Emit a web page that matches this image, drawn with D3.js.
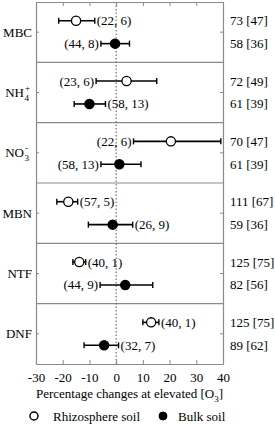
<!DOCTYPE html>
<html>
<head>
<meta charset="utf-8">
<script src="https://cdn.jsdelivr.net/npm/d3@7"></script>
<style>
  body { margin: 0; background: #fff; }
  #chart text { font-family: 'Liberation Serif'; }
</style>
</head>
<body>
<div id="chart"></div>
<script>
// Data
const categories = ["MBC", "NH4", "NO3", "MBN", "NTF", "DNF"];

const rhizoMean = [-15, 3.9, 20.5, -17.9, -13.8, 13.1];
const rhizoLow  = [-21.5, -7.5, 6.5, -22.2, -16.2, 10];
const rhizoHigh = [-8, 15.2, 39.2, -14.4, -11.4, 16];
const rhizoNote = ["(22, 6)", "(23, 6)", "(22, 6)", "(57, 5)", "(40, 1)", "(40, 1)"];
const rhizoSide = ["right", "left", "left", "right", "right", "right"];
const rhizoN    = ["73 [47]", "72 [49]", "70 [47]", "111 [67]", "125 [75]", "125 [75]"];

const bulkMean = [-0.4, -10, 1.2, -1.3, 3.4, -4.5];
const bulkLow  = [-5.7, -15.7, -5.7, -10.4, -6, -12];
const bulkHigh = [5, -4, 9.3, 6.2, 13.7, 0.9];
const bulkNote = ["(44, 8)", "(58, 13)", "(58, 13)", "(26, 9)", "(44, 9)", "(32, 7)"];
const bulkSide = ["left", "right", "left", "right", "left", "right"];
const bulkN    = ["58 [36]", "61 [39]", "61 [39]", "59 [36]", "82 [56]", "89 [62]"];

const xTicks = [-30, -20, -10, 0, 10, 20, 30, 40];

const FONT = "Liberation Serif";

// Layout
const W = 275, H = 425;
const margin = { top: 2, right: 52, bottom: 61, left: 36 };
const width = W - margin.left - margin.right;
const height = H - margin.top - margin.bottom;

const svg = d3.select("#chart")
    .append("svg")
    .attr("width", W)
    .attr("height", H)
    .attr("font-family", FONT)
    .attr("font-size", 13);

const g = svg.append("g")
    .attr("transform", `translate(${margin.left},${margin.top})`);

const x = d3.scaleLinear().domain([-30, 40]).range([0, width]);
const y = d3.scaleBand().domain(categories).range([0, height]);
const bw = y.bandwidth();

// rows: two series per category
const rows = [];
categories.forEach((c, i) => {
    rows.push({ cat: c, type: "rhizo", off: 0.31, mean: rhizoMean[i], lo: rhizoLow[i], hi: rhizoHigh[i], note: rhizoNote[i], side: rhizoSide[i], n: rhizoN[i] });
    rows.push({ cat: c, type: "bulk", off: 0.69, mean: bulkMean[i], lo: bulkLow[i], hi: bulkHigh[i], note: bulkNote[i], side: bulkSide[i], n: bulkN[i] });
});
const ry = d => y(d.cat) + bw * d.off;

// Panel separators
g.selectAll(".sep")
    .data(categories.slice(1))
    .join("line")
    .attr("x1", 0).attr("x2", width)
    .attr("y1", d => y(d)).attr("y2", d => y(d))
    .attr("stroke", "#8a8a8a").attr("stroke-width", 1.2);

// zero line
g.append("line")
    .attr("x1", x(0)).attr("x2", x(0))
    .attr("y1", 0).attr("y2", height)
    .attr("stroke", "#555").attr("stroke-width", 1)
    .attr("stroke-dasharray", "1.5,2");

// Axes (ticks inside)
const bottomAxis = d3.axisBottom(x).tickValues(xTicks).tickFormat(d => String(d))
    .tickSizeInner(-4).tickSizeOuter(0).tickPadding(9);
const topAxis = d3.axisTop(x).tickValues(xTicks).tickSizeInner(-4).tickSizeOuter(0).tickFormat("");
const leftAxis = d3.axisLeft(y).tickSizeInner(-3).tickSizeOuter(0).tickFormat("");
const rightAxis = d3.axisRight(y).tickSizeInner(-3).tickSizeOuter(0).tickFormat("");

[
    [bottomAxis, `translate(0,${height})`],
    [topAxis, "translate(0,0)"],
    [leftAxis, "translate(0,0)"],
    [rightAxis, `translate(${width},0)`]
].forEach(([ax, tr]) => {
    const a = g.append("g").attr("transform", tr).call(ax)
        .attr("font-family", FONT).attr("font-size", 13);
    a.select(".domain").attr("stroke", "#8a8a8a").attr("stroke-width", 1.2);
    a.selectAll(".tick line").attr("stroke", "#8a8a8a");
    a.selectAll(".tick text").attr("fill", "#000");
});

// Category labels with sub/superscripts
const labelText = {
    MBC: ["MBC", null, null],
    NH4: ["NH", "4", "+"],
    NO3: ["NO", "3", "-"],
    MBN: ["MBN", null, null],
    NTF: ["NTF", null, null],
    DNF: ["DNF", null, null]
};
categories.forEach(c => {
    const [base, sub, sup] = labelText[c];
    const cy = y(c) + bw / 2 + 4.5;
    if (!sub) {
        g.append("text").attr("x", -4).attr("y", cy).attr("text-anchor", "end").text(base);
    } else {
        g.append("text").attr("x", -12).attr("y", cy).attr("text-anchor", "end").text(base);
        g.append("text").attr("x", -11.5).attr("y", cy + 4).attr("font-size", 9).text(sub);
        g.append("text").attr("x", -11).attr("y", cy - 6).attr("font-size", 9).text(sup);
    }
});

// Error bars
g.selectAll(".err")
    .data(rows)
    .join("line")
    .attr("x1", d => x(d.lo)).attr("x2", d => x(d.hi))
    .attr("y1", ry).attr("y2", ry)
    .attr("stroke", "#000").attr("stroke-width", 1.6);

g.selectAll(".capL")
    .data(rows)
    .join("line")
    .attr("x1", d => x(d.lo)).attr("x2", d => x(d.lo))
    .attr("y1", d => ry(d) - 3).attr("y2", d => ry(d) + 3)
    .attr("stroke", "#000").attr("stroke-width", 1.4);

g.selectAll(".capR")
    .data(rows)
    .join("line")
    .attr("x1", d => x(d.hi)).attr("x2", d => x(d.hi))
    .attr("y1", d => ry(d) - 3).attr("y2", d => ry(d) + 3)
    .attr("stroke", "#000").attr("stroke-width", 1.4);

// Points
g.selectAll(".pt")
    .data(rows)
    .join("circle")
    .attr("cx", d => x(d.mean))
    .attr("cy", ry)
    .attr("r", 4.6)
    .attr("fill", d => d.type === "rhizo" ? "#fff" : "#000")
    .attr("stroke", "#000").attr("stroke-width", 1.3);

// Study/observation notes beside each bar
g.selectAll(".note")
    .data(rows)
    .join("text")
    .attr("x", d => d.side === "right" ? x(d.hi) + 2 : x(d.lo) - 2)
    .attr("y", d => ry(d) + 4.5)
    .attr("text-anchor", d => d.side === "right" ? "start" : "end")
    .text(d => d.note);

// Sample sizes on the right
g.selectAll(".n")
    .data(rows)
    .join("text")
    .attr("x", width + 7)
    .attr("y", d => ry(d) + 4.5)
    .text(d => d.n);

// Axis title
const title = g.append("text")
    .attr("x", (x(-30) + x(40)) / 2)
    .attr("y", height + 34)
    .attr("text-anchor", "middle");
title.append("tspan").text("Percentage changes at elevated [O");
title.append("tspan").attr("dy", 4).attr("font-size", 9).text("3");
title.append("tspan").attr("dy", -4).text("]");

// Legend
const legY = H - 9;
svg.append("circle").attr("cx", 34).attr("cy", legY).attr("r", 4).attr("fill", "#fff").attr("stroke", "#000").attr("stroke-width", 1.5);
svg.append("text").attr("x", 53).attr("y", legY + 4.5).text("Rhizosphere soil");
svg.append("circle").attr("cx", 163).attr("cy", legY).attr("r", 4).attr("fill", "#000").attr("stroke", "#000");
svg.append("text").attr("x", 178).attr("y", legY + 4.5).text("Bulk soil");
</script>
</body>
</html>
